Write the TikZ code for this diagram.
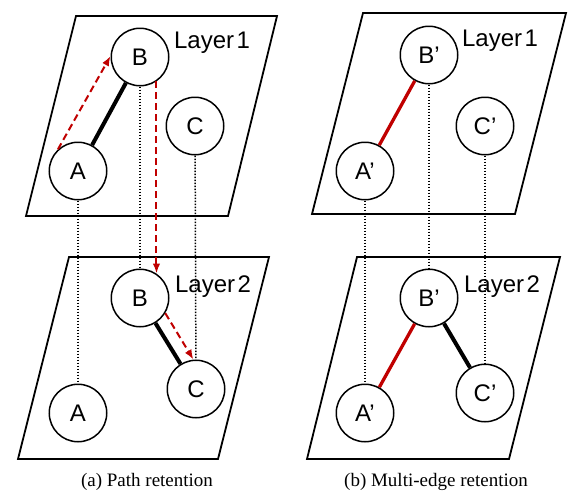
\documentclass[tikz,border=0pt]{standalone}
\usepackage{fontspec}
\setmainfont{Liberation Serif}
\newfontfamily\labelfont{Liberation Sans}
\usetikzlibrary{arrows.meta}
\definecolor{retainred}{RGB}{192,0,0}

\begin{document}
\begin{tikzpicture}[x=1pt, y=-1pt,
    vertex/.style={draw, circle, line width=1.5pt, minimum size=57.5pt, inner sep=0pt,
        font=\labelfont\fontsize{24}{28}\selectfont},
    layername/.style={font=\labelfont\fontsize{24}{28}\selectfont, inner sep=0pt},
    layer/.style={draw, line width=1.8pt, line join=miter},
    link/.style={line width=4pt},
    redlink/.style={line width=3.3pt, draw=retainred},
    hop/.style={line width=2pt, draw=retainred, dash pattern=on 7pt off 4pt,
        -{Latex[length=10pt, width=7.5pt]}},
    drop/.style={line width=1.5pt, dash pattern=on 1.5pt off 1.5pt},
    caption/.style={font=\fontsize{19}{23}\selectfont, inner sep=0pt}]
    \useasboundingbox (0,0) rectangle (575,501);

    % (a) path retention
    \draw[layer] (76,16) -- (277,16) -- (228,216) -- (26,216) -- cycle;
    \draw[layer] (69,257) -- (269,257) -- (218,459) -- (18,459) -- cycle;

    \node[vertex] (a1) at (78,171) {A};
    \node[vertex] (b1) at (140,57) {B};
    \node[vertex] (c1) at (195,126) {C};
    \node[vertex] (a2) at (78,413) {A};
    \node[vertex] (b2) at (140,298) {B};
    \node[vertex] (c2) at (196,389) {C};
    \node[layername] (top1) at (212,43) {Layer\hspace{0.1em}1};
    \node[layername] (bot1) at (213,287) {Layer\hspace{0.1em}2};

    \draw[link] (a1) -- (b1);
    \draw[link] (b2) -- (c2);
    \draw[drop] (a1) -- (a2);
    \draw[drop] (b1) -- (b2);
    \draw[drop] (c1) -- (c2);
    \draw[hop] (a1.133) -- (b1.178);
    \draw[hop] (b1.-56) -- (b2.56);
    \draw[hop] (b2.-31) -- (c2.95);

    \node[caption] (capa) at (147,482) {(a) Path retention};

    % (b) multi-edge retention
    \draw[layer] (363,13) -- (566,13) -- (515,214) -- (312,214) -- cycle;
    \draw[layer] (357,257) -- (560,257) -- (509,459) -- (307,459) -- cycle;

    \node[vertex] (a3) at (365,171) {A’};
    \node[vertex] (b3) at (429,55) {B’};
    \node[vertex] (c3) at (485,126) {C’};
    \node[vertex] (a4) at (365,413) {A’};
    \node[vertex] (b4) at (429,298) {B’};
    \node[vertex] (c4) at (485,393) {C’};
    \node[layername] (top2) at (500,41) {Layer\hspace{0.1em}1};
    \node[layername] (bot2) at (502,287) {Layer\hspace{0.1em}2};

    \draw[redlink] (a3) -- (b3);
    \draw[redlink] (a4) -- (b4);
    \draw[link] (b4) -- (c4);
    \draw[drop] (a3) -- (a4);
    \draw[drop] (b3) -- (b4);
    \draw[drop] (c3) -- (c4);

    \node[caption] (capb) at (436,482) {(b) Multi-edge retention};
\end{tikzpicture}
\end{document}
